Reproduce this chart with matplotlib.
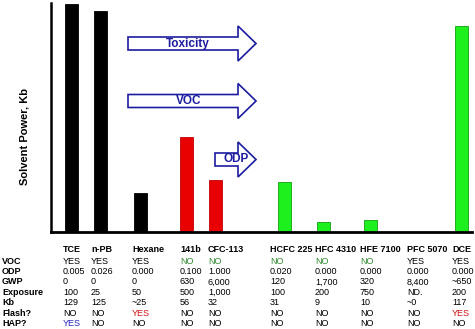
import numpy as np
import matplotlib.pyplot as plt
from matplotlib.patches import Polygon

plt.rcParams['font.family'] = ['Liberation Sans', 'DejaVu Sans']

# solvents and their properties
solvents = ["TCE", "n-PB", "Hexane", "141b", "CFC-113", "HCFC 225",
            "HFC 4310", "HFE 7100", "PFC 5070", "DCE"]
kb = [129, 125, 25, 56, 32, 31, 9, 10, 0, 117]
voc = ["YES", "YES", "YES", "NO", "NO", "NO", "NO", "NO", "YES", "YES"]
odp = ["0.005", "0.026", "0.000", "0.100", "1.000", "0.020", "0.000",
       "0.000", "0.000", "0.000"]
gwp = ["0", "0", "0", "630", "6,000", "120", "1,700", "320", "8,400", "~650"]
exposure = ["100", "25", "50", "500", "1,000", "100", "200", "750", "ND.", "200"]
kb_text = ["129", "125", "~25", "56", "32", "31", "9", "10", "~0", "117"]
flash = ["NO", "NO", "YES", "NO", "NO", "NO", "NO", "NO", "NO", "YES"]
hap = ["YES", "NO", "NO", "NO", "NO", "NO", "NO", "NO", "NO", "NO"]
arrows = ["Toxicity", "VOC", "ODP"]

W, H = 475, 329
bar_x = [71.5, 100, 140.5, 186.5, 215.5, 284.5, 324, 370.5, 416, 461.5]
col_x = [63, 91, 132, 180, 208, 270, 315, 360, 407, 452]
bar_colors = ["black"] * 3 + ["#e80000"] * 2 + ["#1ef01e"] * 5
edge_colors = ["black"] * 3 + ["#c00000"] * 2 + ["#10a010"] * 5

fig = plt.figure(figsize=(W / 100, H / 100), dpi=100)
ax = fig.add_axes([51 / W, 1 - 232 / H, 421 / W, 229 / H])
ax.bar(bar_x, kb, width=13, color=bar_colors, edgecolor=edge_colors,
       linewidth=0.6)
ax.set_xlim(51, 472)
ax.set_ylim(3.5, 129.5)
ax.set_xticks([])
ax.set_yticks([])
for s in ["top", "right"]:
    ax.spines[s].set_visible(False)
ax.spines["left"].set_linewidth(1.8)
ax.spines["bottom"].set_linewidth(2.0)

fig.text(25 / W, 1 - 137 / H, "Solvent Power, Kb", rotation=90,
         ha="center", va="center", fontsize=8, fontweight="bold")


def px(x, y):
    return (x / W, 1 - y / H)


# block arrows over the bars
blue = "#1c1ca0"
arrow_geom = [(128, 43.5, 188), (128, 101, 188.5), (215, 159.5, 236.5)]
for label, (x0, yc, tx) in zip(arrows, arrow_geom):
    sh, hh, hx, x1 = 6.5, 17.5, 238, 256
    pts = [(x0, yc - sh), (hx, yc - sh), (hx, yc - hh), (x1, yc),
           (hx, yc + hh), (hx, yc + sh), (x0, yc + sh)]
    poly = Polygon([px(*p) for p in pts], closed=True, transform=fig.transFigure,
                   facecolor="white", edgecolor=blue, linewidth=1.2)
    fig.patches.append(poly)
    fig.text(*px(tx, yc), label, ha="center", va="center", color=blue,
             fontsize=8.5, fontweight="bold")

# property table under the chart
rows = [("VOC", voc), ("ODP", odp), ("GWP", gwp), ("Exposure", exposure),
        ("Kb", kb_text), ("Flash?", flash), ("HAP?", hap)]
row_y = [261, 271.5, 282, 292.3, 302.6, 313, 323.5]
fs = 6.5

for name, x in zip(solvents, col_x):
    fig.text(*px(x, 249), name, ha="left", va="center", fontsize=fs,
             fontweight="bold")

for (label, vals), y in zip(rows, row_y):
    fig.text(*px(2, y), label, ha="left", va="center", fontsize=fs,
             fontweight="bold")
    for v, x in zip(vals, col_x):
        c = "black"
        if label == "VOC" and v == "NO":
            c = "#2e8b2e"
        elif label == "Flash?" and v == "YES":
            c = "#d01010"
        elif label == "HAP?" and v == "YES":
            c = "#2020c0"
        fig.text(*px(x, y), v, ha="left", va="center", fontsize=fs, color=c)

fig.savefig("out.png", dpi=100)
